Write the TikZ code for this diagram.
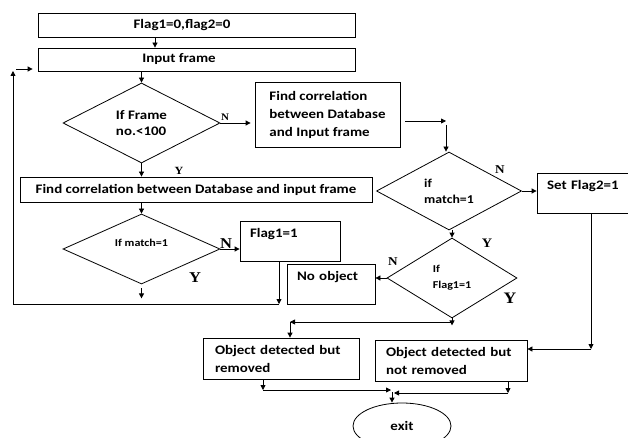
\documentclass[tikz,border=0pt]{standalone}
\usepackage{fontspec}
\setmainfont{Carlito}[FakeStretch=1.15]
\newfontfamily\ynfont{Liberation Serif}[FakeStretch=1.1]
\usetikzlibrary{arrows.meta, shapes.geometric}

\begin{document}
\begin{tikzpicture}[x=1pt, y=-1pt, line width=0.8pt,
  box/.style={draw, rectangle, inner sep=0pt, font=\fontsize{13}{18}\selectfont\bfseries},
  topbox/.style={box, align=left, inner xsep=10pt, text height=9pt, text depth=16pt},
  dia/.style={draw, diamond, aspect=2, inner sep=0pt, align=left, font=\fontsize{#1}{16}\selectfont\bfseries},
  yn/.style={inner sep=0pt, font=\ynfont\fontsize{#1}{#1}\selectfont\bfseries},
  arr/.style={-{Triangle[length=5pt, width=5pt]}}]
\clip (0,0) rectangle (628,438);
% Start
\node[box, minimum width=317pt, minimum height=24pt] (init) at (196.5,25) {\hspace*{-29pt}Flag1=0,flag2=0};
\node[box, minimum width=317pt, minimum height=23pt] (input) at (196.5,59.5) {\hspace*{-35pt}Input frame};
\draw[arr] ([xshift=-41.5pt]init.south) -- ([xshift=-41.5pt]input.north);
% Frame number test
\node[dia=13, minimum width=157pt, minimum height=80pt] (frame) at (141.5,123) {If Frame\\no.<100};
\draw[arr] (input.south -| frame.north) -- (frame.north);
\node[box, align=left, minimum width=145pt, minimum height=65pt] (corrA) at (327.5,114.5) {Find correlation\\between Database\\and Input frame};
\draw[arr] (frame.east) -- ([xshift=-4pt]frame.east -| corrA.west);
\node[yn=10] (nFrame) at (225,117) {N};
\node[box, minimum width=352pt, minimum height=25pt] (corrB) at (196,189.5) {Find correlation between Database and input frame};
\draw[arr] (frame.south) -- (frame.south |- corrB.north);
\node[yn=11] (yFrame) at (179,171) {Y};
% Left branch
\node[dia=10.5, minimum width=157pt, minimum height=70pt, text depth=12pt] (matchA) at (141.5,249) {If match=1};
\draw[arr] (corrB.south -| matchA.north) -- (matchA.north);
\node[topbox, text width=80pt, minimum height=40pt] (flagA) at (290,241) {Flag1=1};
\draw[arr] (matchA.east) -- (matchA.east -| flagA.west);
\node[yn=15] (nMatchA) at (226,244) {N};
\node[yn=15] (yMatchA) at (195,278) {Y};
\draw[arr] ([yshift=-4pt]matchA.south) -- ([yshift=-14pt]matchA.south);
% Loop back to input frame
\coordinate (loopR) at (279,304);
\coordinate (loopL) at (13,304);
\coordinate (loopT) at (13,71);
\coordinate (loopIn) at (16,69);
\draw[arr] (flagA.south -| loopR) -- (loopR);
\draw[arr] (loopR) -- (loopL) -- (loopT);
\draw[arr] (loopIn) -- ([xshift=-5pt]loopIn -| input.west);
% Right branch
\node[dia=12, minimum width=145pt, minimum height=78pt] (matchB) at (449,191) {if\\match=1};
\coordinate (turnA) at (446,121);
\draw[arr] ([xshift=5pt]corrA.east |- turnA) -- (turnA);
\draw[arr] ([yshift=-4pt]turnA) -- (turnA |- matchB.north);
\node[topbox, text width=73pt, minimum height=40pt] (setflag) at (583.5,193) {Set Flag2=1};
\draw[arr] (matchB.east) -- (matchB.east -| setflag.west);
\node[yn=12] (nMatchB) at (500,170) {N};
\node[dia=10.5, minimum width=130pt, minimum height=80pt] (flagq) at (452,278) {If\\Flag1=1};
\draw[arr] (matchB.south -| flagq.north) -- (flagq.north);
\node[yn=13] (yMatchB) at (487,243) {Y};
\node[topbox, text width=68pt, minimum height=40pt] (noobj) at (331,284) {No object};
\draw[arr] (flagq.west) -- (flagq.west -| noobj.east);
\node[yn=12] (nFlag) at (393,262) {N};
\node[yn=16] (yFlag) at (510,298) {Y};
% Results
\node[box, align=left, text width=132pt, inner xsep=12pt, minimum height=41pt] (detA) at (281,358.5) {Object detected but\\removed};
\node[box, align=left, text width=130pt, inner xsep=11pt, minimum height=41pt] (detB) at (451,360.5) {Object detected but\\not removed};
\coordinate (turnC) at (290,322);
\draw[arr] (flagq.south) -- ([yshift=-7pt]flagq.south);
\draw[arr] (flagq.south |- turnC) -- (turnC);
\draw[arr] (turnC) -- (turnC |- detA.north);
\coordinate (turnB) at (591,349);
\draw[arr] (setflag.south -| turnB) -- (turnB);
\draw[arr] (turnB) -- (turnB -| detB.east);
% Exit
\node[draw, ellipse, inner sep=0pt, minimum width=98pt, minimum height=46pt, font=\fontsize{13}{18}\selectfont\bfseries] (exit) at (402,426) {exit};
\coordinate (joinL) at (263,390);
\coordinate (joinR) at (508,393);
\coordinate (joinM) at (392,392);
\draw[arr] (detA.south -| joinL) -- (joinL);
\draw[arr] (joinL) -- ([xshift=-1pt]joinL -| joinM);
\draw[arr] (detB.south -| joinR) -- (joinR);
\draw[arr] (joinR) -- ([xshift=2pt]joinR -| joinM);
\draw[arr] (joinM) -- (joinM |- exit.north);
\end{tikzpicture}
\end{document}
